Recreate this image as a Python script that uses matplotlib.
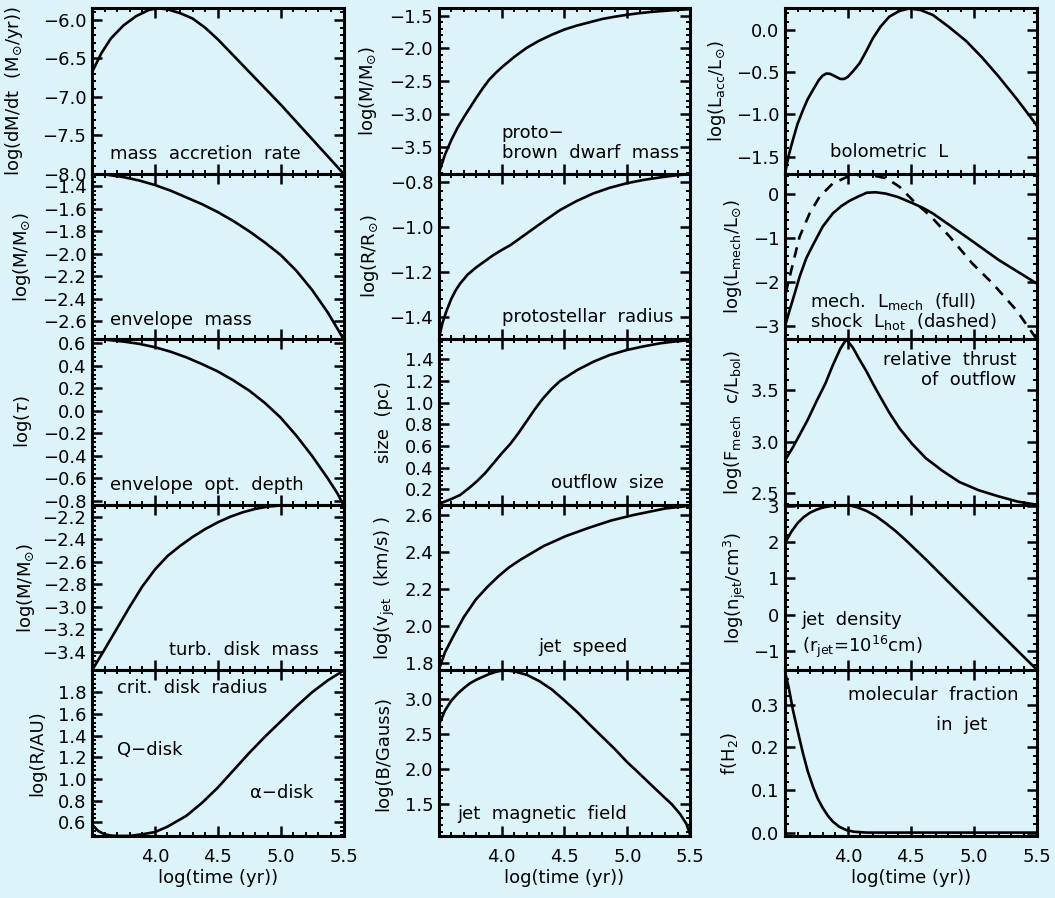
import matplotlib
matplotlib.use('Agg')
import matplotlib.pyplot as plt
from matplotlib.ticker import AutoMinorLocator, FixedLocator, FuncFormatter

# DATA (x = log(time/yr))
# ############################################################################
t_mdot = [3.5, 3.575, 3.65, 3.75, 3.85, 3.95, 4.02, 4.1, 4.2, 4.3, 4.4, 4.5,
          4.6, 4.7, 4.8, 4.9, 5.0, 5.1, 5.2, 5.3, 5.4, 5.5]
mdot = [-6.68, -6.43, -6.24, -6.07, -5.95, -5.87, -5.845, -5.86, -5.91, -5.98,
        -6.1, -6.25, -6.42, -6.59, -6.76, -6.93, -7.1, -7.28, -7.46, -7.64,
        -7.82, -8.0]

t_env = [3.5, 3.625, 3.75, 3.875, 4.0, 4.125, 4.25, 4.375, 4.5, 4.625, 4.75,
         4.875, 5.0, 5.125, 5.25, 5.375, 5.45, 5.5]
env_mass = [-1.29, -1.30, -1.32, -1.35, -1.39, -1.44, -1.50, -1.56, -1.63,
            -1.71, -1.80, -1.90, -2.01, -2.15, -2.32, -2.52, -2.66, -2.757]

t_tau = [3.5, 3.625, 3.75, 3.875, 4.0, 4.125, 4.25, 4.375, 4.5, 4.625, 4.75,
         4.875, 5.0, 5.125, 5.25, 5.375, 5.45, 5.5]
log_tau = [0.636, 0.630, 0.615, 0.595, 0.565, 0.525, 0.475, 0.415, 0.35,
           0.27, 0.18, 0.07, -0.06, -0.22, -0.40, -0.6, -0.73, -0.834]

t_disk = [3.5, 3.6, 3.7, 3.8, 3.9, 4.0, 4.1, 4.2, 4.3, 4.4, 4.5, 4.6, 4.7,
          4.8, 4.9, 5.0, 5.2, 5.5]
disk_mass = [-3.566, -3.38, -3.19, -3.0, -2.82, -2.67, -2.55, -2.46, -2.38,
             -2.31, -2.25, -2.2, -2.16, -2.13, -2.11, -2.10, -2.095, -2.095]

t_rcrit = [3.5, 3.55, 3.6, 3.65, 3.7, 3.8, 3.9, 4.0, 4.1, 4.25, 4.375, 4.5,
           4.625, 4.75, 4.875, 5.0, 5.125, 5.25, 5.375, 5.5]
r_crit = [0.58, 0.52, 0.49, 0.478, 0.475, 0.475, 0.49, 0.51, 0.56, 0.66,
          0.78, 0.92, 1.08, 1.24, 1.39, 1.53, 1.67, 1.80, 1.91, 2.0]

t_mstar = [3.5, 3.55, 3.6, 3.65, 3.7, 3.75, 3.8, 3.85, 3.9, 3.95, 4.0, 4.1,
           4.2, 4.3, 4.4, 4.5, 4.6, 4.7, 4.8, 4.9, 5.0, 5.1, 5.2, 5.3, 5.4,
           5.5]
m_star = [-3.91, -3.62, -3.40, -3.21, -3.05, -2.90, -2.75, -2.61, -2.48,
          -2.38, -2.29, -2.13, -1.99, -1.88, -1.79, -1.71, -1.65, -1.60,
          -1.55, -1.515, -1.485, -1.46, -1.44, -1.425, -1.41, -1.40]

t_rstar = [3.5, 3.53, 3.564, 3.6, 3.635, 3.67, 3.73, 3.80, 3.87, 3.935, 4.0,
           4.07, 4.2, 4.33, 4.465, 4.6, 4.73, 4.86, 4.995, 5.13, 5.26, 5.38,
           5.5]
r_star = [-1.497, -1.425, -1.368, -1.318, -1.28, -1.25, -1.21, -1.177,
          -1.149, -1.123, -1.101, -1.079, -1.027, -0.975, -0.923, -0.882,
          -0.849, -0.824, -0.804, -0.789, -0.778, -0.769, -0.763]

t_size = [3.5, 3.6, 3.67, 3.75, 3.8, 3.87, 3.935, 4.0, 4.07, 4.135, 4.2,
          4.265, 4.33, 4.4, 4.465, 4.6, 4.73, 4.86, 4.995, 5.13, 5.26, 5.38,
          5.5]
flow_size = [0.065, 0.11, 0.147, 0.22, 0.27, 0.35, 0.44, 0.53, 0.62, 0.72,
             0.83, 0.94, 1.04, 1.13, 1.2, 1.3, 1.378, 1.44, 1.486, 1.52,
             1.548, 1.565, 1.578]

t_vjet = [3.5, 3.55, 3.615, 3.7, 3.794, 3.884, 3.974, 4.06, 4.153, 4.333,
          4.51, 4.69, 4.87, 5.05, 5.3, 5.5]
v_jet = [1.762, 1.86, 1.945, 2.05, 2.143, 2.21, 2.269, 2.318, 2.36, 2.432,
         2.486, 2.53, 2.57, 2.60, 2.635, 2.65]

t_bjet = [3.5, 3.55, 3.6, 3.65, 3.7, 3.75, 3.8, 3.85, 3.9, 3.95, 4.0, 4.05,
          4.1, 4.2, 4.3, 4.4, 4.49, 4.6, 4.7, 4.78, 4.9, 5.0, 5.06, 5.2, 5.3,
          5.354, 5.42, 5.47, 5.5]
b_jet = [2.63, 2.84, 2.98, 3.08, 3.16, 3.23, 3.28, 3.32, 3.36, 3.39, 3.41,
         3.41, 3.40, 3.35, 3.26, 3.14, 3.0, 2.82, 2.64, 2.5, 2.29, 2.1, 2.0,
         1.76, 1.59, 1.5, 1.36, 1.22, 1.06]

t_lbol = [3.5, 3.53, 3.563, 3.6, 3.643, 3.68, 3.722, 3.77, 3.8, 3.83, 3.86,
          3.9, 3.94, 3.97, 4.0, 4.04, 4.093, 4.15, 4.198, 4.26, 4.33, 4.41,
          4.49, 4.58, 4.675, 4.8, 4.94, 5.07, 5.2, 5.35, 5.5]
l_bol = [-1.70, -1.48, -1.30, -1.11, -0.948, -0.82, -0.711, -0.59, -0.54,
         -0.515, -0.52, -0.55, -0.58, -0.58, -0.555, -0.49, -0.395, -0.24,
         -0.10, 0.04, 0.158, 0.225, 0.255, 0.235, 0.178, 0.04, -0.13, -0.33,
         -0.553, -0.83, -1.125]

t_lmech = [3.5, 3.537, 3.577, 3.616, 3.669, 3.722, 3.80, 3.88, 3.95, 4.01,
           4.08, 4.15, 4.22, 4.3, 4.4, 4.516, 4.6, 4.675, 4.94, 5.2, 5.5]
l_mech = [-3.0, -2.64, -2.26, -1.88, -1.46, -1.16, -0.74, -0.44, -0.27,
          -0.16, -0.06, 0.03, 0.04, 0.01, -0.07, -0.21, -0.32, -0.44, -0.97,
          -1.5, -2.03]

t_lhot = [3.505, 3.55, 3.616, 3.696, 3.775, 3.88, 4.01, 4.146, 4.305, 4.41,
          4.54, 4.65, 4.81, 4.99, 5.15, 5.34, 5.47, 5.5]
l_hot = [-2.26, -1.73, -0.97, -0.44, -0.06, 0.24, 0.41, 0.45, 0.36, 0.166,
         -0.21, -0.48, -0.97, -1.58, -2.03, -2.64, -3.17, -3.29]

t_thrust = [3.5, 3.56, 3.616, 3.68, 3.75, 3.82, 3.88, 3.94, 3.987, 4.04,
            4.09, 4.146, 4.2, 4.25, 4.33, 4.41, 4.51, 4.62, 4.75, 4.886, 5.04,
            5.2, 5.35, 5.5]
thrust = [2.82, 2.94, 3.065, 3.21, 3.39, 3.56, 3.74, 3.9, 3.99, 3.91, 3.80,
          3.685, 3.56, 3.45, 3.28, 3.13, 2.98, 2.84, 2.72, 2.61, 2.53, 2.47,
          2.42, 2.39]

t_njet = [3.5, 3.55, 3.6, 3.65, 3.7, 3.75, 3.8, 3.88, 3.95, 4.0, 4.07, 4.146,
          4.22, 4.3, 4.38, 4.46, 4.62, 4.77, 5.06, 5.35, 5.5]
n_jet = [1.97, 2.28, 2.52, 2.69, 2.81, 2.89, 2.95, 3.0, 3.02, 3.02, 2.96,
         2.86, 2.72, 2.52, 2.3, 2.05, 1.52, 1.0, 0.0, -1.0, -1.51]

t_fh2 = [3.5, 3.53, 3.563, 3.6, 3.643, 3.68, 3.722, 3.76, 3.8, 3.84, 3.88,
         3.93, 3.987, 4.05, 4.15, 5.5]
f_h2 = [0.378, 0.34, 0.288, 0.24, 0.186, 0.145, 0.108, 0.08, 0.058, 0.04,
        0.026, 0.014, 0.006, 0.002, 0.0, 0.0]

X_TICKS = [4.0, 4.5, 5.0, 5.5]

# LAYOUT
# ############################################################################
BG = '#dcf3fa'
FIG_W, FIG_H = 1055, 898
COL_LEFT = [92, 438.7, 785]
PANEL_W, PANEL_H, TOP = 251.5, 165.6, 8

plt.rcParams['font.family'] = 'DejaVu Sans'
plt.rcParams['font.size'] = 13
plt.rcParams['mathtext.fontset'] = 'dejavusans'


def fmt_tick(decimals):
    def f(v, pos):
        s = '%.*f' % (decimals, v)
        return s.replace('-', '\u2212')
    return FuncFormatter(f)


def make_axes(fig, row, col):
    left = COL_LEFT[col] / FIG_W
    bottom = 1 - (TOP + (row + 1) * PANEL_H) / FIG_H
    ax = fig.add_axes([left, bottom, PANEL_W / FIG_W, PANEL_H / FIG_H])
    ax.set_facecolor(BG)
    for sp in ax.spines.values():
        sp.set_linewidth(2.2)
    ax.set_xlim(3.5, 5.5)
    ax.xaxis.set_major_locator(FixedLocator(X_TICKS))
    ax.xaxis.set_minor_locator(AutoMinorLocator(5))
    ax.tick_params(which='both', direction='in', top=True, right=True)
    ax.tick_params(which='major', length=7, width=1.8, pad=4)
    ax.tick_params(which='minor', length=3, width=1.4)
    if row == 4:
        ax.xaxis.set_major_formatter(fmt_tick(1))
        ax.tick_params(axis='x', pad=9)
        ax.set_xlabel('log(time (yr))', labelpad=2)
    else:
        ax.set_xticklabels([])
    return ax


def style_y(ax, ylim, ticks, decimals, label, label_px, col):
    ax.set_ylim(*ylim)
    ax.yaxis.set_major_locator(FixedLocator(ticks))
    ax.yaxis.set_minor_locator(AutoMinorLocator(5))
    ax.yaxis.set_major_formatter(fmt_tick(decimals))
    ax.set_ylabel(label)
    ax.yaxis.label.set_va('center')
    ax.yaxis.set_label_coords((label_px - COL_LEFT[col]) / PANEL_W, 0.5)


def note(ax, x, y, s, ha='left'):
    ax.text(x, y, s, transform=ax.transAxes, ha=ha, va='center')


def curve(ax, t, y, ls='-'):
    if ls == '-':
        ax.plot(t, y, color='black', lw=1.9, solid_joinstyle='round')
    else:
        ax.plot(t, y, color='black', lw=1.9, linestyle=(0, (4, 3)))


# MAIN
# ############################################################################
def main() -> None:
    fig = plt.figure(figsize=(FIG_W / 100, FIG_H / 100), dpi=100)
    fig.patch.set_facecolor(BG)
    sun = r'$_{\odot}$'

    # column 1
    ax = make_axes(fig, 0, 0)
    curve(ax, t_mdot, mdot)
    style_y(ax, (-8.0, -5.843), [-8.0, -7.5, -7.0, -6.5, -6.0], 1,
            'log(dM/dt  (M' + sun + '/yr))', 14, 0)
    note(ax, 0.072, 0.12, 'mass  accretion  rate')

    ax = make_axes(fig, 1, 0)
    curve(ax, t_env, env_mass)
    style_y(ax, (-2.757, -1.289), [-2.6, -2.4, -2.2, -2.0, -1.8, -1.6, -1.4],
            1, 'log(M/M' + sun + ')', 22, 0)
    note(ax, 0.072, 0.117, 'envelope  mass')

    ax = make_axes(fig, 2, 0)
    curve(ax, t_tau, log_tau)
    style_y(ax, (-0.834, 0.636),
            [-0.8, -0.6, -0.4, -0.2, 0.0, 0.2, 0.4, 0.6], 1,
            r'log($\tau$)', 23, 0)
    note(ax, 0.072, 0.12, 'envelope  opt.  depth')

    ax = make_axes(fig, 3, 0)
    curve(ax, t_disk, disk_mass)
    style_y(ax, (-3.566, -2.094), [-3.4, -3.2, -3.0, -2.8, -2.6, -2.4, -2.2],
            1, 'log(M/M' + sun + ')', 26, 0)
    note(ax, 0.9, 0.123, 'turb.  disk  mass', ha='right')

    ax = make_axes(fig, 4, 0)
    curve(ax, t_rcrit, r_crit)
    style_y(ax, (0.474, 2.002), [0.6, 0.8, 1.0, 1.2, 1.4, 1.6, 1.8], 1,
            'log(R/AU)', 37, 0)
    note(ax, 0.098, 0.892, 'crit.  disk  radius')
    note(ax, 0.098, 0.519, 'Q\u2212disk')
    note(ax, 0.63, 0.258, '\u03b1\u2212disk')

    # column 2
    ax = make_axes(fig, 0, 1)
    curve(ax, t_mstar, m_star)
    style_y(ax, (-3.911, -1.382), [-3.5, -3.0, -2.5, -2.0, -1.5], 1,
            'log(M/M' + sun + ')', 368, 1)
    note(ax, 0.25, 0.243, 'proto\u2212')
    note(ax, 0.25, 0.123, 'brown  dwarf  mass')

    ax = make_axes(fig, 1, 1)
    curve(ax, t_rstar, r_star)
    style_y(ax, (-1.497, -0.761), [-1.4, -1.2, -1.0, -0.8], 1,
            'log(R/R' + sun + ')', 370, 1)
    note(ax, 0.25, 0.136, 'protostellar  radius')

    ax = make_axes(fig, 2, 1)
    curve(ax, t_size, flow_size)
    style_y(ax, (0.057, 1.586), [0.2, 0.4, 0.6, 0.8, 1.0, 1.2, 1.4], 1,
            'size  (pc)', 384, 1)
    note(ax, 0.894, 0.133, 'outflow  size', ha='right')

    ax = make_axes(fig, 3, 1)
    curve(ax, t_vjet, v_jet)
    style_y(ax, (1.762, 2.655), [1.8, 2.0, 2.2, 2.4, 2.6], 1,
            r'log(v$_{\rm jet}$  (km/s) )', 385, 1)
    ax.text(0.574, 0.143, 'jet  speed', transform=ax.transAxes,
            ha='center', va='center')

    ax = make_axes(fig, 4, 1)
    curve(ax, t_bjet, b_jet)
    style_y(ax, (1.047, 3.413), [1.5, 2.0, 2.5, 3.0], 1,
            'log(B/Gauss)', 383, 1)
    note(ax, 0.072, 0.133, 'jet  magnetic  field')

    # column 3
    ax = make_axes(fig, 0, 2)
    curve(ax, t_lbol, l_bol)
    style_y(ax, (-1.70, 0.26), [-1.5, -1.0, -0.5, 0.0], 1,
            r'log(L$_{\rm acc}$/L' + sun + ')', 717, 2)
    note(ax, 0.179, 0.132, 'bolometric  L')

    ax = make_axes(fig, 1, 2)
    curve(ax, t_lmech, l_mech)
    curve(ax, t_lhot, l_hot, ls='--')
    style_y(ax, (-3.30, 0.464), [-3, -2, -1, 0], 0,
            r'log(L$_{\rm mech}$/L' + sun + ')', 733, 2)
    note(ax, 0.099, 0.226, r'mech.  L$_{\rm mech}$  (full)')
    note(ax, 0.099, 0.106, r'shock  L$_{\rm hot}$  (dashed)')

    ax = make_axes(fig, 2, 2)
    curve(ax, t_thrust, thrust)
    style_y(ax, (2.389, 3.992), [2.5, 3.0, 3.5], 1,
            r'log(F$_{\rm mech}$  c/L$_{\rm bol}$)', 733, 2)
    note(ax, 0.919, 0.874, 'relative  thrust', ha='right')
    note(ax, 0.919, 0.754, 'of  outflow', ha='right')

    ax = make_axes(fig, 3, 2)
    curve(ax, t_njet, n_jet)
    style_y(ax, (-1.54, 3.025), [-1, 0, 1, 2, 3], 0,
            r'log(n$_{\rm jet}$/cm$^3$)', 735, 2)
    note(ax, 0.066, 0.304, 'jet  density')
    note(ax, 0.066, 0.143, r'(r$_{\rm jet}$=10$^{16}$cm)')

    ax = make_axes(fig, 4, 2)
    curve(ax, t_fh2, f_h2)
    style_y(ax, (-0.008, 0.381), [0.0, 0.1, 0.2, 0.3], 1,
            r'f(H$_2$)', 730, 2)
    note(ax, 0.251, 0.851, 'molecular  fraction')
    note(ax, 0.602, 0.67, 'in  jet')

    fig.savefig('out.png', dpi=100, facecolor=BG)


if __name__ == "__main__":
    main()
